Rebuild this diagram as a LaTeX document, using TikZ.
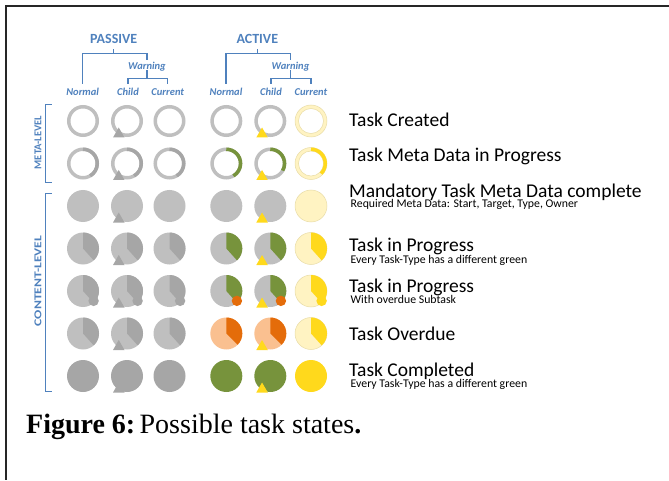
\documentclass[tikz,border=0pt]{standalone}
\usepackage{fontspec}
\setmainfont{Carlito}
\newfontfamily\captionfont{Liberation Serif}
\usetikzlibrary{positioning}

\definecolor{hdblue}{HTML}{4F81BD}
\definecolor{lgray}{HTML}{BFBFBF}
\definecolor{dgray}{HTML}{A6A6A6}
\definecolor{leaf}{HTML}{77933C}
\definecolor{gold}{HTML}{FFD91C}
\definecolor{pale}{HTML}{FFF3C2}
\definecolor{paleedge}{HTML}{E8DCA8}
\definecolor{rust}{HTML}{E46C0A}
\definecolor{peach}{HTML}{FAC090}

\newcommand{\tring}[2]{\draw[line width=3.5pt,#2] (#1) circle (14.25);}
\newcommand{\tarc}[3]{\draw[line width=3.5pt,#2] ([shift={(90:14.25)}]#1) arc (90:#3:14.25);}
\newcommand{\tpalering}[1]{\filldraw[fill=pale,draw=paleedge,line width=.5pt,even odd rule] (#1) circle (16) (#1) circle (12.5);}
\newcommand{\tdisc}[2]{\fill[#2] (#1) circle (16);}
\newcommand{\tpaledisc}[1]{\filldraw[fill=pale,draw=paleedge,line width=.5pt] (#1) circle (16);}
\newcommand{\tslice}[3]{\fill[#2] (#1) -- ([shift={(90:16)}]#1) arc (90:#3:16) -- cycle;}
\newcommand{\tflag}[2]{\fill[#2] ([shift={(-14,-16.5)}]#1) -- ++(11.5,0) -- ++(-5.75,10) -- cycle;}
\newcommand{\subdot}[2]{\fill[#2] ([shift={(-43:14.5)}]#1) circle (5.2);}

\begin{document}
\begin{tikzpicture}[x=1pt, y=1pt,
    head/.style={font=\fontsize{14}{16}\selectfont\bfseries, text=hdblue, inner sep=0, anchor=base},
    col/.style={font=\fontsize{10.5}{12}\selectfont\bfseries\itshape, text=hdblue, inner sep=0, anchor=base},
    lvl/.style={font=\fontsize{10.5}{12}\selectfont\bfseries, text=hdblue, inner sep=0, rotate=90},
    brk/.style={draw=hdblue, line width=1.3pt},
    statelbl/.style={font=\fontsize{19.5}{21}\selectfont, inner sep=0, anchor=base west},
    note/.style={font=\fontsize{11.8}{13}\selectfont, inner sep=0, anchor=base west}]
  \useasboundingbox (0,0) rectangle (669,480);
  \draw[line width=2.3pt, black!85] (669,474) -- (6,474) -- (6,0);

  % column heads
  \node[head] (passive) at (113.7,436.7) {PASSIVE};
  \node[head] (active) at (257.3,436.7) {ACTIVE};
  \node[col] (pwarn) at (147,410.7) {Warning};
  \node[col] (awarn) at (290.5,410.7) {Warning};
  \node[col] (pnormal) at (82.7,384.3) {Normal};
  \node[col] (pchild) at (128,384.3) {Child};
  \node[col] (pcurrent) at (167.8,384.3) {Current};
  \node[col] (anormal) at (226,384.3) {Normal};
  \node[col] (achild) at (271,384.3) {Child};
  \node[col] (acurrent) at (311,384.3) {Current};

  \draw[brk] ([yshift=-6]passive.base) -- ++(0,-4) coordinate (pjoin);
  \draw[brk] ([yshift=12]pnormal.base) |- (pjoin) -| ([yshift=9]pwarn.base);
  \draw[brk] ([yshift=-1]pwarn.base) -- ++(0,-8) coordinate (pwjoin);
  \draw[brk] ([yshift=12]pchild.base) |- (pwjoin) -| ([yshift=12]pcurrent.base);
  \draw[brk] ([yshift=-6]active.base) -- ++(0,-4) coordinate (ajoin);
  \draw[brk] ([yshift=12]anormal.base) |- (ajoin) -| ([yshift=9]awarn.base);
  \draw[brk] ([yshift=-1]awarn.base) -- ++(0,-8) coordinate (awjoin);
  \draw[brk] ([yshift=12]achild.base) |- (awjoin) -| ([yshift=12]acurrent.base);

  % level brackets
  \node[lvl] (meta) at (38,337.5) {META-LEVEL};
  \node[lvl] (content) at (38,199) {\scalebox{1.3}[1]{CONTENT-LEVEL}};
  \coordinate (mtop) at (51.7,375.7);
  \coordinate (mbot) at (51.7,297.3);
  \coordinate (ctop) at (51.7,286.7);
  \coordinate (cbot) at (51.7,89);
  \draw[brk, line width=1pt] (mtop) -- ++(-6.7,0) |- (mbot);
  \draw[brk, line width=1pt] (ctop) -- ++(-6.7,0) |- (cbot);

  % cells
  \foreach \cx [count=\i] in {83,127,169.5,226.3,270.3,311}
    \foreach \ry [count=\j] in {359,316.5,274,231.5,189,146.5,104}
      \coordinate (p\i\j) at (\cx,\ry);

  \foreach \c in {p11,p21,p31,p41,p51} {\tring{\c}{lgray}}
  \tflag{p21}{dgray} \tflag{p51}{gold}
  \tpalering{p61}

  \foreach \c in {p12,p22,p32,p42,p52} {\tring{\c}{lgray}}
  \foreach \c in {p12,p22,p32} {\tarc{\c}{dgray}{-60}}
  \tarc{p42}{leaf}{-60} \tarc{p52}{leaf}{-30}
  \tflag{p22}{dgray} \tflag{p52}{gold}
  \tpalering{p62} \tarc{p62}{gold}{-45}

  \foreach \c in {p13,p23,p33,p43,p53} {\tdisc{\c}{lgray}}
  \tflag{p23}{dgray} \tflag{p53}{gold}
  \tpaledisc{p63}

  \foreach \c in {p14,p24,p34,p15,p25,p35,p16,p26,p36} {\tdisc{\c}{lgray} \tslice{\c}{dgray}{-48}}
  \foreach \c in {p44,p54,p45,p55} {\tdisc{\c}{lgray} \tslice{\c}{leaf}{-48}}
  \foreach \c in {p46,p56} {\tdisc{\c}{peach} \tslice{\c}{rust}{-45}}
  \foreach \c in {p64,p65,p66} {\tpaledisc{\c} \tslice{\c}{gold}{-48}}
  \foreach \c in {p15,p25,p35} {\subdot{\c}{dgray}}
  \subdot{p45}{rust} \subdot{p55}{rust} \subdot{p65}{gold}
  \foreach \c in {p24,p25,p26} {\tflag{\c}{dgray}}
  \foreach \c in {p54,p55,p56} {\tflag{\c}{gold}}

  \foreach \c in {p17,p27,p37} {\tdisc{\c}{dgray}}
  \tdisc{p47}{leaf} \tdisc{p57}{leaf} \tdisc{p67}{gold}
  \tflag{p27}{dgray} \tflag{p57}{gold}

  % state labels
  \node[statelbl] (created) at (349,353) {Task Created};
  \node[statelbl] (metaprog) at (349,318) {Task Meta Data in Progress};
  \node[statelbl] (mandatory) at (349,282.5) {Mandatory Task Meta Data complete};
  \node[note] (required) at ([xshift=1.5,yshift=-10]mandatory.base west) {Required Meta Data: Start, Target, Type, Owner};
  \node[statelbl] (progress) at (349,228.5) {Task in Progress};
  \node[note] (greenA) at ([xshift=1.5,yshift=-11.5]progress.base west) {Every Task-Type has a different green};
  \node[statelbl] (subtask) at (349,188) {Task in Progress};
  \node[note] (overdueSub) at ([xshift=1.5,yshift=-11]subtask.base west) {With overdue Subtask};
  \node[statelbl] (overdue) at (349,140) {Task Overdue};
  \node[statelbl] (completed) at (349,103.5) {Task Completed};
  \node[note] (greenB) at ([xshift=1.5,yshift=-11]completed.base west) {Every Task-Type has a different green};

  \node[font=\captionfont\fontsize{28}{32}\selectfont, inner sep=0, anchor=base west] (caption) at (26,46.7)
    {\textbf{Figure 6:}\hspace{-5pt} Possible task states\textbf{.}};
\end{tikzpicture}
\end{document}
